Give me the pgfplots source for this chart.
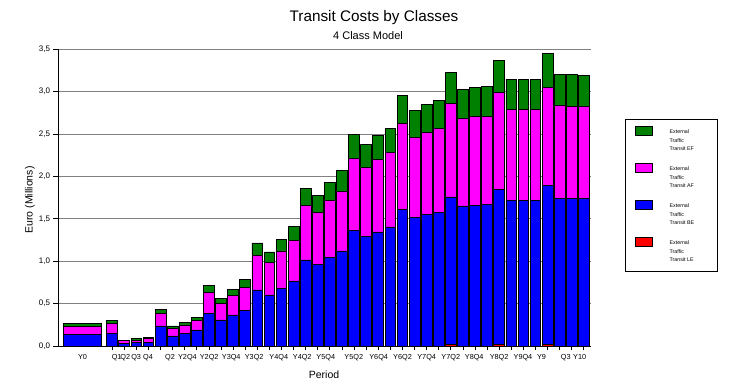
\documentclass[border=0pt]{standalone}
\usepackage{fontspec}
\setmainfont{Liberation Sans}
\usepackage{pgfplots}
\pgfplotsset{compat=1.18}
\usepackage{pgfplotstable}
\definecolor{cgreen}{RGB}{0,128,0}
\definecolor{cmag}{RGB}{255,0,255}
\definecolor{cblue}{RGB}{0,0,255}
\definecolor{cred}{RGB}{255,0,0}
\definecolor{cgrid}{RGB}{128,128,128}

\pgfplotstableread{
x red blue mag green
1 0 0.149 0.114 0.040
2 0 0.031 0.034 0.002
3 0 0.045 0.022 0.023
4 0 0.047 0.040 0.015
5 0 0.236 0.145 0.052
6 0 0.118 0.090 0.028
7 0 0.153 0.095 0.031
8 0 0.189 0.114 0.039
9 0 0.385 0.248 0.083
10 0 0.307 0.196 0.063
11 0 0.366 0.232 0.074
12 0 0.421 0.271 0.098
13 0 0.661 0.409 0.145
14 0 0.602 0.385 0.122
15 0 0.684 0.437 0.137
16 0 0.767 0.480 0.165
17 0 1.015 0.644 0.201
18 0 0.963 0.614 0.204
19 0 1.046 0.672 0.213
20 0 1.121 0.704 0.247
21 0 1.368 0.846 0.283
22 0 1.294 0.814 0.271
23 0 1.345 0.857 0.283
24 0 1.404 0.881 0.283
25 0 1.616 1.007 0.334
26 0 1.518 0.944 0.318
27 0 1.557 0.964 0.330
28 0 1.577 0.991 0.330
29 0.02 1.738 1.105 0.365
30 0 1.652 1.034 0.342
31 0 1.663 1.046 0.342
32 0 1.675 1.034 0.354
33 0.02 1.828 1.145 0.377
34 0 1.722 1.070 0.354
35 0 1.722 1.070 0.354
36 0 1.722 1.070 0.354
37 0.02 1.868 1.163 0.402
38 0 1.742 1.097 0.366
39 0 1.742 1.085 0.378
40 0 1.742 1.085 0.366
}\costs

\pgfplotstableread{
x red blue mag green
-1.455 0 0.138 0.090 0.039
}\yzero

\newcommand{\legtxt}[1]{\begin{tabular}[b]{@{}l@{}}External\\Traffic\\Transit #1\end{tabular}}

\pgfplotsset{
  mybase/.style={
    scale only axis, width=532.2pt, height=296.7pt,
    xmin=-3.44, xmax=40.56, ymin=0, ymax=3.5,
    at={(58.5pt,44pt)}, anchor=south west,
  },
  barsty/.style={draw=black, line width=0.9pt, fill=#1},
  leg/.style={legend image code/.code={%
    \path[draw=none,fill=none] (0pt,0pt) -- (32pt,0pt);
    \draw[##1, draw=black, line width=0.9pt] (0pt,4pt) rectangle (17pt,13pt);}},
}

\begin{document}
\begin{tikzpicture}
\path[use as bounding box] (0,0) rectangle (745pt,390pt);
\begin{axis}[mybase,
  ybar stacked, bar width=0.89,
  axis x line*=bottom, axis y line*=left,
  axis line style={black, line width=0.9pt},
  ytick={0,0.5,1,1.5,2,2.5,3,3.5},
  ymajorgrids, grid style={cgrid, line width=0.9pt},
  xtick={-1.455,1.37,2.08,2.98,3.96,5.78,7.22,9.02,10.84,12.74,14.77,16.71,18.66,20.97,23.03,25.0,27.0,28.99,30.93,32.99,34.96,36.5,38.5,39.65},
  xticklabels={Y0,Q1,Q2,Q3,Q4,Q2,Y2Q4,Y2Q2,Y3Q4,Y3Q2,Y4Q4,Y4Q2,Y5Q4,Y5Q2,Y6Q4,Y6Q2,Y7Q4,Y7Q2,Y8Q4,Y8Q2,Y9Q4,Y9,Q3,Y10},
  major x tick style={draw=none},
  minor xtick={1,...,40},
  minor tick length=4pt,
  major tick length=5pt,
  tick align=outside,
  tick style={black, line width=0.9pt},
  /pgf/number format/assume math mode=true,
  yticklabel style={font=\fontsize{8}{9}\selectfont, /pgf/number format/.cd, fixed, fixed zerofill, precision=1, use comma},
  xticklabel style={font=\fontsize{7.3}{8}\selectfont},
  xlabel={Period}, ylabel={Euro (Millions)},
  xlabel style={font=\fontsize{10.5}{12}\selectfont, at={(axis description cs:0.499,-0.098)}, anchor=center},
  ylabel style={font=\fontsize{10.5}{12}\selectfont, at={(axis description cs:-0.0536,0.492)}, anchor=center},
  legend style={at={(1.0645,0.765)}, anchor=north west, draw=none, fill=none,
    font=\fontsize{5.3}{8.5}\selectfont, row sep=8.5pt, inner xsep=10pt, inner ysep=6.5pt},
  legend cell align=left,
  reverse legend,
]
\addplot[barsty=cred, leg] table[x=x,y=red]{\costs}; \addlegendentry{\legtxt{LE}}
\addplot[barsty=cblue, leg] table[x=x,y=blue]{\costs}; \addlegendentry{\legtxt{BE}}
\addplot[barsty=cmag, leg] table[x=x,y=mag]{\costs}; \addlegendentry{\legtxt{AF}}
\addplot[barsty=cgreen, leg] table[x=x,y=green]{\costs}; \addlegendentry{\legtxt{EF}}
\end{axis}
\begin{axis}[mybase, hide axis, ybar stacked, bar width=3.17]
\addplot[barsty=cred] table[x=x,y=red]{\yzero};
\addplot[barsty=cblue] table[x=x,y=blue]{\yzero};
\addplot[barsty=cmag] table[x=x,y=mag]{\yzero};
\addplot[barsty=cgreen] table[x=x,y=green]{\yzero};
\end{axis}
\draw[black, line width=0.9pt] (625pt,119pt) rectangle (717pt,271pt);
\node[font=\fontsize{15.3}{18}\selectfont] at (374pt,372pt) {Transit Costs by Classes};
\node[font=\fontsize{11}{13}\selectfont] at (368pt,354pt) {4 Class Model};
\end{tikzpicture}
\end{document}
